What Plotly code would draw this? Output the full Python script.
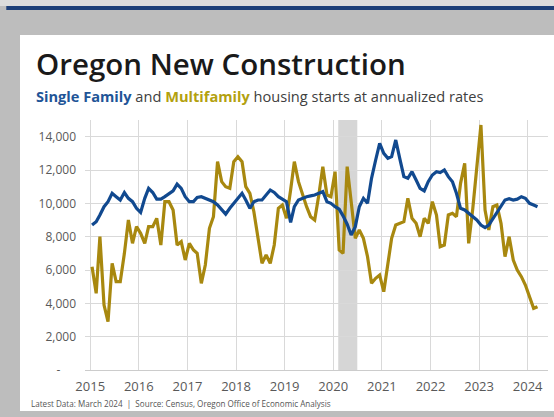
import pandas as pd
import plotly.graph_objects as go

# ---------------- data (monthly, Jan 2015 - Mar 2024, annualized starts) ----------------
start_month = "2015-01-01"
single_family = [
    8700, 8900, 9300, 9800, 10100, 10600, 10400, 10200, 10650, 10300, 10100, 9700,     # 2015
    9450, 10300, 10900, 10650, 10250, 10250, 10400, 10600, 10750, 11150, 10900, 10400, # 2016
    10100, 10100, 10350, 10400, 10300, 10200, 10100, 9900, 9600, 9350, 9700, 10000,   # 2017
    10300, 10600, 10200, 9700, 10100, 10200, 10200, 10500, 10800, 10650, 10400, 10250,# 2018
    10100, 8850, 9800, 10200, 10300, 10400, 10450, 10500, 10600, 10700, 10100, 10000, # 2019
    9800, 9650, 9250, 8750, 8100, 8600, 9800, 10300, 10000, 11500, 12600, 13600,      # 2020
    13000, 12700, 12800, 13800, 12700, 11600, 11500, 11900, 11400, 10900, 10750, 11300,# 2021
    11700, 11900, 11850, 12000, 11600, 11300, 10600, 9700, 9600, 9400, 9200, 9000,    # 2022
    8700, 8550, 8700, 9100, 9500, 9900, 10200, 10280, 10200, 10250, 10400, 10300,     # 2023
    10000, 9900, 9800,                                                                # 2024
]
multifamily = [
    6200, 4600, 8000, 3900, 2900, 6400, 5300, 5300, 7000, 9000, 7600, 8600,           # 2015
    8200, 7600, 8600, 8600, 9100, 7500, 10100, 10100, 9600, 7500, 7700, 6600,         # 2016
    7600, 7200, 7000, 5200, 6300, 8500, 9200, 12500, 11300, 11000, 10900, 12500,      # 2017
    12800, 12500, 11000, 10600, 9500, 8000, 6400, 6900, 6400, 7500, 9700, 9900,       # 2018
    9100, 10800, 12500, 11300, 10500, 9800, 9200, 9000, 10500, 12200, 10500, 10400,   # 2019
    11900, 7200, 7000, 12200, 10100, 7900, 8400, 7900, 6800, 5200, 5500, 5700,        # 2020
    4700, 6300, 7900, 8700, 8800, 8900, 10300, 9100, 8800, 8000, 9100, 8800,          # 2021
    10100, 9300, 7400, 7500, 9300, 9400, 9200, 11200, 12400, 7600, 9700, 12000,       # 2022
    14700, 9600, 8400, 9800, 9900, 8800, 6800, 8000, 6600, 6000, 5600, 5100,          # 2023
    4400, 3700, 3800,                                                                 # 2024
]
recession = ("2020-02-08", "2020-06-30")
year_ticks = [f"{y}-01-01" for y in range(2015, 2025)]
year_labels = [str(y) for y in range(2015, 2025)]
y_tickvals = [0, 2000, 4000, 6000, 8000, 10000, 12000, 14000]
y_ticktext = ["-\u00a0\u00a0\u00a0\u00a0\u00a0", "2,000", "4,000", "6,000", "8,000", "10,000", "12,000", "14,000"]

dates = pd.date_range(start_month, periods=len(single_family), freq="MS") + pd.Timedelta(days=14)

BLUE = "#11498f"
GOLD = "#a8880f"
FONT = "Open Sans"

fig = go.Figure()

# slide frame: white panel on gray border, blue rule at the top (drawn first, lowest)
fig.add_shape(type="rect", xref="paper", yref="paper", x0=-0.1404, x1=1.02, y0=-0.164, y1=1.34,
              fillcolor="white", line_width=0, layer="below")
fig.add_shape(type="rect", xref="paper", yref="paper", x0=-0.17, x1=1.02, y0=1.44, y1=1.456,
              fillcolor="#1d3f78", line_width=0, layer="below")
fig.add_shape(type="rect", xref="paper", yref="paper", x0=-0.185, x1=1.02, y0=1.456, y1=1.49,
              fillcolor="#dcdcdc", line_width=0, layer="below")

# recession shading
fig.add_vrect(x0=recession[0], x1=recession[1], fillcolor="#d6d6d6", opacity=1,
              line_width=0, layer="below")

fig.add_trace(go.Scatter(x=dates, y=multifamily, mode="lines", name="Multifamily",
                         line=dict(color=GOLD, width=3.2), showlegend=False))
fig.add_trace(go.Scatter(x=dates, y=single_family, mode="lines", name="Single Family",
                         line=dict(color=BLUE, width=3.2), showlegend=False))

fig.add_annotation(xref="paper", yref="paper", x=-0.110, y=1.228, xanchor="left", yanchor="middle",
                   text="Oregon New Construction", showarrow=False,
                   font=dict(family=FONT, size=29.5, color="#1a1a1a", weight=600))
fig.add_annotation(xref="paper", yref="paper", x=-0.110, y=1.094, xanchor="left", yanchor="middle",
                   text=(f"<b><span style='color:#1f5597'>Single Family</span></b> and "
                         f"<b><span style='color:#b3a10f'>Multifamily</span></b> housing starts at annualized rates"),
                   showarrow=False, font=dict(family=FONT, size=14.6, color="#404040"))
fig.add_annotation(xref="paper", yref="paper", x=-0.121, y=-0.132, xanchor="left", yanchor="middle",
                   text="Latest Data: March 2024  |  Source: Census, Oregon Office of Economic Analysis",
                   showarrow=False, font=dict(family=FONT, size=8.1, color="#555555"))

fig.update_xaxes(type="date", range=["2014-11-23", "2024-06-02"], tickvals=year_ticks, ticktext=year_labels,
                 showgrid=True, gridcolor="#d9d9d9", gridwidth=1, zeroline=False,
                 showline=True, linecolor="#cccccc", linewidth=1, ticks="",
                 tickfont=dict(family=FONT, size=13, color="#595959"), ticklabelstandoff=4)
fig.update_yaxes(range=[0, 15000], tickvals=y_tickvals, ticktext=y_ticktext,
                 showgrid=True, gridcolor="#d9d9d9", gridwidth=1, zeroline=False, showline=False,
                 ticks="", tickfont=dict(family=FONT, size=12, color="#595959"), ticklabelstandoff=8)

fig.update_layout(width=554, height=417, margin=dict(l=85, r=6, t=120, b=47),
                  paper_bgcolor="#bdbdbd", plot_bgcolor="rgba(0,0,0,0)")

fig.write_html("out.html", config={"displayModeBar": False},
               post_script="document.body.style.margin='0';")
